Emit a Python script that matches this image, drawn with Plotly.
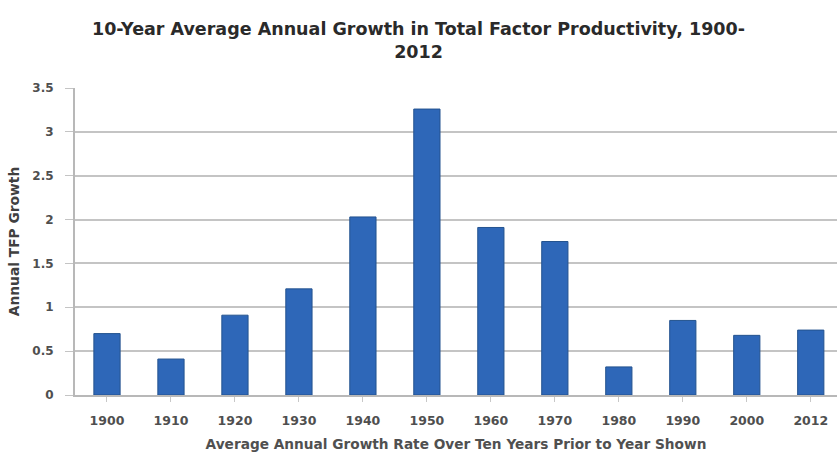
import plotly.graph_objects as go

years = ["1900", "1910", "1920", "1930", "1940", "1950", "1960", "1970", "1980", "1990", "2000", "2012"]
tfp_growth = [0.70, 0.41, 0.91, 1.21, 2.03, 3.26, 1.91, 1.75, 0.32, 0.85, 0.68, 0.74]
y_ticks = [0, 0.5, 1, 1.5, 2, 2.5, 3, 3.5]
y_tick_labels = ["0", "0.5", "1", "1.5", "2", "2.5", "3", "3.5"]

FONT = "DejaVu Sans"

fig = go.Figure()
fig.add_trace(go.Bar(
    x=list(range(len(years))),
    y=tfp_growth,
    width=0.41,
    marker=dict(color="#2e67b8", line=dict(color="#24538f", width=1)),
))

fig.update_layout(
    width=837, height=452,
    margin=dict(l=75, r=0, t=88, b=57),
    paper_bgcolor="white", plot_bgcolor="white",
    showlegend=False,
    font=dict(family=FONT, color="#404040"),
    title=dict(
        text="<b>10-Year Average Annual Growth in Total Factor Productivity, 1900-<br>2012</b>",
        x=0.5, xanchor="center", y=0.922, yanchor="middle",
        font=dict(size=17.5, color="#2a2a2a", family=FONT),
    ),
    xaxis=dict(
        tickmode="array", tickvals=list(range(len(years))), ticktext=years,
        range=[-0.5, 11.41],
        automargin=False,
        showgrid=False, zeroline=False,
        showline=True, linecolor="#b8b8b8", linewidth=2,
        ticks="outside", tickson="boundaries", ticklen=5, tickcolor="#c8c8c8",
        ticklabelstandoff=8,
        tickfont=dict(size=12.5, color="#4f4f4f", family=FONT, weight="bold"),
        title=dict(text="<b>Average Annual Growth Rate Over Ten Years Prior to Year Shown</b>",
                   font=dict(size=13.7, color="#505050"), standoff=16),
    ),
    yaxis=dict(
        range=[0, 3.5], tickvals=y_ticks, ticktext=y_tick_labels,
        showgrid=True, gridcolor="#c4c4c4", gridwidth=2,
        zeroline=False, showline=True, linecolor="#b8b8b8", linewidth=2,
        ticks="outside", ticklen=8, tickcolor="#c4c4c4",
        ticklabelstandoff=9,
        tickfont=dict(size=12, color="#4f4f4f", weight="bold"),
        title=dict(text="<b>Annual TFP Growth</b>", font=dict(size=13.8, color="#404040"), standoff=10),
    ),
)

fig.write_html("out.html")
